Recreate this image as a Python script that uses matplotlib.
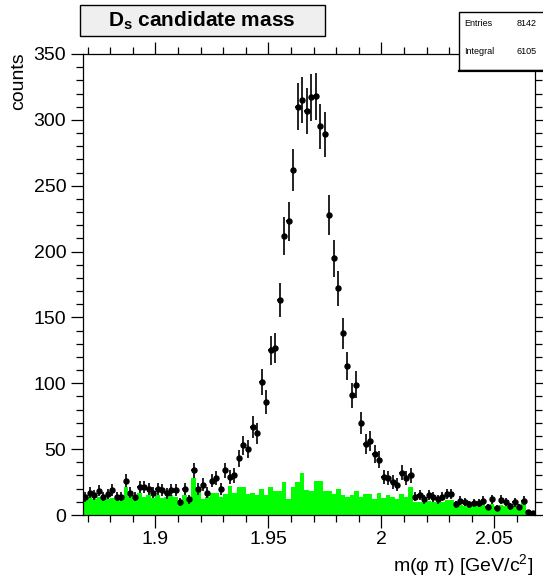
import numpy as np
import matplotlib
matplotlib.use('Agg')
import matplotlib.pyplot as plt
from matplotlib.patches import Rectangle
from matplotlib.lines import Line2D
from matplotlib.ticker import MultipleLocator, FuncFormatter

plt.rcParams['font.family'] = ['Liberation Sans', 'DejaVu Sans']
plt.rcParams['mathtext.fontset'] = 'custom'
plt.rcParams['mathtext.rm'] = 'Liberation Sans'
plt.rcParams['mathtext.it'] = 'Liberation Sans:italic'
plt.rcParams['mathtext.bf'] = 'Liberation Sans:bold'

# ---- data ----
x_min = 1.868
bin_width = 0.002

counts = [13.5, 17, 15, 18.5, 14, 16, 19, 14, 14, 26,
          17, 14, 21, 21, 19.5, 17, 19.5, 19, 16.5, 19,
          19, 10, 20, 12, 34, 19.5, 23, 17, 26, 28,
          19.5, 34, 28.5, 30, 43, 53, 50, 67, 62, 101,
          86, 125, 127, 163, 212, 223, 262, 310, 315, 307,
          317, 318, 295, 289, 228, 195, 172, 138, 113, 91,
          99, 70, 54, 56, 46, 42, 29, 28, 25, 23,
          32, 28, 30, 14, 15, 12, 15, 13.5, 12, 14,
          16, 16, 8, 11, 10, 8, 9, 9, 11, 6,
          12, 5, 11.5, 10, 6.5, 9.5, 6, 11, 2, 1.5]

background = [12, 14, 12, 14, 12, 12, 13, 12, 12, 21,
              16, 12, 17, 14, 15, 13, 15, 13, 14, 15,
              14, 9, 15, 11, 28, 20, 12, 14, 17, 17,
              14, 16, 22, 17, 21, 21, 16, 17, 15, 20,
              15, 21, 18, 18, 25, 12, 21, 25, 32, 19,
              18, 26, 26, 18, 18, 16, 20, 15, 14, 15,
              18, 14, 16, 16, 12, 17, 13, 15, 14, 12,
              16, 14, 21, 10, 10, 11, 11, 9.5, 10, 10,
              11.5, 11.5, 7, 7.5, 7, 9, 7.5, 7, 8.5, 6.5,
              8.5, 7, 7.5, 7, 7, 6.5, 6.5, 10, 0, 0]

title = 'candidate mass'
xlabel = r'm(φ π) [GeV/c$^{2}$]'
ylabel = 'counts'
stats_names = ['Entries', 'Integral']
stats_values = ['8142', '6105']

# ---- figure ----
W, H = 543, 577
fig = plt.figure(figsize=(W / 100, H / 100), dpi=100)
fig.patch.set_facecolor('white')

L, R, T, B = 83, 535, 54, 515
ax = fig.add_axes([L / W, 1 - B / H, (R - L) / W, (B - T) / H])

counts = np.asarray(counts, dtype=float)
background = np.asarray(background, dtype=float)
edges = x_min + bin_width * np.arange(len(counts) + 1)
centers = 0.5 * (edges[:-1] + edges[1:])

ax.stairs(background, edges, fill=True, color='#00ff00', linewidth=0, zorder=1)
ax.errorbar(centers, counts, yerr=np.sqrt(counts), xerr=bin_width / 2,
            fmt='o', ms=3.6, color='black', ecolor='#111111',
            elinewidth=1.3, capsize=0, zorder=3)

ax.set_xlim(edges[0], edges[-1])
ax.set_ylim(0, 350)
ax.xaxis.set_major_locator(MultipleLocator(0.05))
ax.xaxis.set_minor_locator(MultipleLocator(0.01))
ax.yaxis.set_major_locator(MultipleLocator(50))
ax.yaxis.set_minor_locator(MultipleLocator(10))
ax.xaxis.set_major_formatter(FuncFormatter(lambda v, p: f'{v:g}'))
ax.tick_params(which='both', direction='out', top=True, right=True,
               labelsize=14, width=0.9, colors='black')
ax.tick_params(which='major', length=9)
ax.tick_params(which='minor', length=5)
ax.tick_params(axis='x', which='major', pad=2.5)
ax.tick_params(axis='y', which='major', pad=3)
for s in ax.spines.values():
    s.set_linewidth(0.9)

fig.text(19 / W, 1 - 52 / H, ylabel, rotation=90, ha='center', va='top', fontsize=14)
fig.text(533 / W, 1 - 565 / H, xlabel, ha='right', va='center', fontsize=14)

# title box
fig.add_artist(Rectangle((80 / W, 1 - 36 / H), 245 / W, 31 / H,
                         transform=fig.transFigure, facecolor='#efefef',
                         edgecolor='black', linewidth=1.0, zorder=5))
fig.text(202 / W, 1 - 21 / H, r'$\mathbf{D_s}$ ' + title, ha='center', va='center',
         fontsize=15, fontweight='bold', zorder=6)

# stats box
fig.add_artist(Rectangle((459 / W, 1 - 70 / H), 100 / W, 58 / H,
                         transform=fig.transFigure, facecolor='white',
                         edgecolor='black', linewidth=1.0, zorder=5))
fig.add_artist(Line2D([459 / W, 1.0], [1 - 70.5 / H, 1 - 70.5 / H],
                      transform=fig.transFigure, color='black', linewidth=1.6, zorder=6))
for k, (n, v) in enumerate(zip(stats_names, stats_values)):
    y = 1 - (23 + 28 * k) / H
    fig.text(464 / W, y, n, ha='left', va='center', fontsize=6.5, zorder=7)
    fig.text(537 / W, y, v, ha='right', va='center', fontsize=6.5, zorder=7)

fig.savefig('out.png', dpi=100, facecolor='white')
